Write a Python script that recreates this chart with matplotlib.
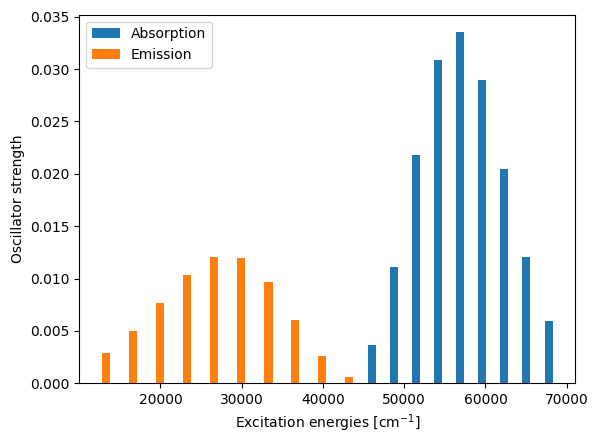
import numpy as np
import matplotlib
matplotlib.use("Agg")
import matplotlib.pyplot as plt

# emission / absorption energies (cm^-1) and oscillator strengths
em_energy = [13300, 16630, 19965, 23300, 26630, 29965, 33300, 36580, 39870, 43230]
em_strength = [0.00286, 0.00496, 0.00763, 0.0103, 0.01202, 0.01192, 0.00964, 0.00602, 0.00258, 0.00058]

abs_energy = [46010, 48730, 51445, 54160, 56875, 59595, 62310, 65025, 67790]
abs_strength = [0.00363, 0.01106, 0.02181, 0.03085, 0.03351, 0.02894, 0.02048, 0.01202, 0.00592]

fig = plt.figure(figsize=(5.98, 4.44), dpi=100)
ax = fig.add_axes([0.1328, 0.1367, 0.8293, 0.8302])

ax.bar(abs_energy, abs_strength, width=1000, label="Absorption")
ax.bar(em_energy, em_strength, width=1000, label="Emission")

ax.set_xlabel(r"Excitation energies [cm$^{-1}$]")
ax.set_ylabel("Oscillator strength")
ax.legend(loc="upper left")

plt.savefig("out.png", format="png", dpi=100)
